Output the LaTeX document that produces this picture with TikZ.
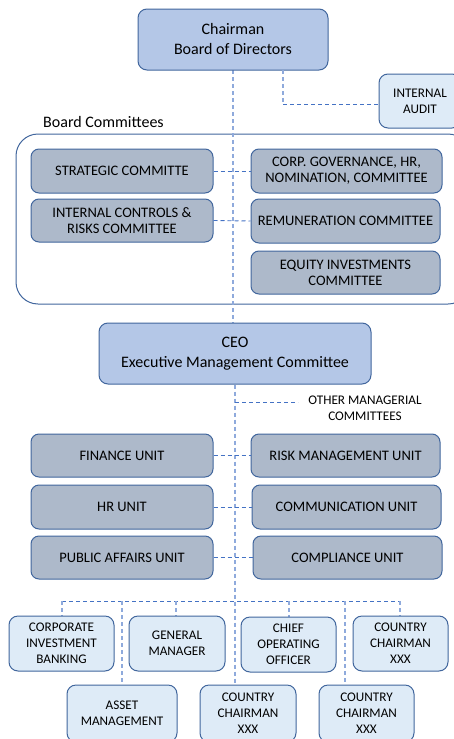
\documentclass[tikz,border=0pt]{standalone}
\usepackage{fontspec}
\setmainfont{Carlito}
\begin{document}
\begin{tikzpicture}[x=1pt,y=-1pt,
  every node/.style={font=\fontsize{14.5}{16}\selectfont, align=center, inner sep=1pt},
  topbox/.style={draw=bordc, fill=topfill, rounded corners=9pt, line width=1pt, font=\fontsize{16}{20}\selectfont},
  graybox/.style={draw=bordc, fill=grayfill, rounded corners=8pt, line width=1pt},
  lightbox/.style={draw=bordc, fill=lightfill, rounded corners=9pt, line width=1pt, font=\fontsize{13.2}{16}\selectfont},
  hconn/.style={draw=conn, dashed, dash pattern=on 4pt off 3pt, line width=0.9pt},
  vconn/.style={draw=vconnc, dash pattern=on 4pt off 3pt, line width=1.2pt}
]
\definecolor{bordc}{HTML}{41669D}
\definecolor{topfill}{HTML}{B4C7E7}
\definecolor{grayfill}{HTML}{ADB9CA}
\definecolor{lightfill}{HTML}{DEEBF7}
\definecolor{conn}{HTML}{4472C4}
\definecolor{vconnc}{HTML}{8FAADC}
\useasboundingbox (0,0) rectangle (454,739);
\begin{scope}
\clip (0,0) rectangle (454,739);
% frame
\draw[draw=bordc, line width=1pt, rounded corners=22pt] (16,134) rectangle (470,304);
% main vertical line
\coordinate (vtop) at (233,70);
\coordinate (vmid) at (233,323);
\draw[vconn] (vtop) -- (vmid);
% Top boxes
\node[topbox, minimum width=190pt, minimum height=61pt] (chair) at (233,39.5) {Chairman\\Board of Directors};
\node[lightbox, minimum width=82pt, minimum height=54pt] (audit) at (420,101) {INTERNAL\\AUDIT};
\node[anchor=west, font=\fontsize{16}{18}\selectfont] (bclabel) at (42,122) {Board Committees};
% committees
\node[graybox, minimum width=182pt, minimum height=44pt] (strat) at (122,171) {STRATEGIC COMMITTE};
\node[graybox, minimum width=191pt, minimum height=44pt] (corp) at (346.5,171) {CORP. GOVERNANCE, HR,\\NOMINATION, COMMITTEE};
\node[graybox, minimum width=182pt, minimum height=43pt] (intc) at (122,220.5) {INTERNAL CONTROLS \&\\RISKS COMMITTEE};
\node[graybox, minimum width=189pt, minimum height=44pt] (remun) at (345.5,221) {REMUNERATION COMMITTEE};
\node[graybox, minimum width=189pt, minimum height=43pt] (equity) at (345.5,272.5) {EQUITY INVESTMENTS\\COMMITTEE};
\draw[hconn] (strat.east) -- (corp.west);
\draw[hconn] (intc.east) -- (remun.west);
% audit connector
\coordinate (auditfrom) at (283,70);
\draw[vconn] (auditfrom) -- (283,104);
\draw[hconn] (283,104) -- (audit.west |- 0,104);
% CEO
\node[topbox, minimum width=272pt, minimum height=61pt] (ceo) at (235,353.5) {CEO\\Executive Management Committee};
\node[font=\fontsize{13.2}{16}\selectfont] (other) at (365,408) {OTHER MANAGERIAL\\COMMITTEES};
\coordinate (vbot) at (235,685);
\draw[vconn] (ceo.south) -- (vbot);
\draw[hconn] (235,402) -- (298,402);
% units
\node[graybox, minimum width=182pt, minimum height=43pt] (fin) at (122,455.5) {FINANCE UNIT};
\node[graybox, minimum width=189pt, minimum height=43pt] (risk) at (345.5,455.5) {RISK MANAGEMENT UNIT};
\node[graybox, minimum width=182pt, minimum height=44pt] (hr) at (122,507) {HR UNIT};
\node[graybox, minimum width=189pt, minimum height=44pt] (comm) at (346.5,507) {COMMUNICATION UNIT};
\node[graybox, minimum width=182pt, minimum height=43pt] (pub) at (122,557.5) {PUBLIC AFFAIRS UNIT};
\node[graybox, minimum width=189pt, minimum height=43pt] (compl) at (347.5,557.5) {COMPLIANCE UNIT};
\draw[hconn] (fin.east) -- (risk.west);
\draw[hconn] (hr.east) -- (comm.west);
\draw[hconn] (pub.east) -- (compl.west);
% bottom bus
\draw[hconn] (62,601) -- (400,601);
\draw[vconn] (62,601) -- (62,616);
\draw[vconn] (122,601) -- (122,685);
\draw[vconn] (176,601) -- (176,616);
\draw[vconn] (289,601) -- (289,617);
\draw[vconn] (345,601) -- (345,685);
\draw[vconn] (400,601) -- (400,616);
% bottom boxes
\node[lightbox, minimum width=105pt, minimum height=55pt] (cib) at (61.5,643.5) {CORPORATE\\INVESTMENT\\BANKING};
\node[lightbox, minimum width=96pt, minimum height=55pt] (gm) at (177,643.5) {GENERAL\\MANAGER};
\node[lightbox, minimum width=95pt, minimum height=55pt] (coo) at (288.5,644.5) {CHIEF\\OPERATING\\OFFICER};
\node[lightbox, minimum width=95pt, minimum height=55pt] (cc1) at (400.5,643.5) {COUNTRY\\CHAIRMAN\\XXX};
\node[lightbox, minimum width=110pt, minimum height=57pt] (am) at (122,713.5) {ASSET\\MANAGEMENT};
\node[lightbox, minimum width=96pt, minimum height=57pt] (cc2) at (248,713.5) {COUNTRY\\CHAIRMAN\\XXX};
\node[lightbox, minimum width=95pt, minimum height=57pt] (cc3) at (366.5,713.5) {COUNTRY\\CHAIRMAN\\XXX};
\end{scope}
\end{tikzpicture}
\end{document}
